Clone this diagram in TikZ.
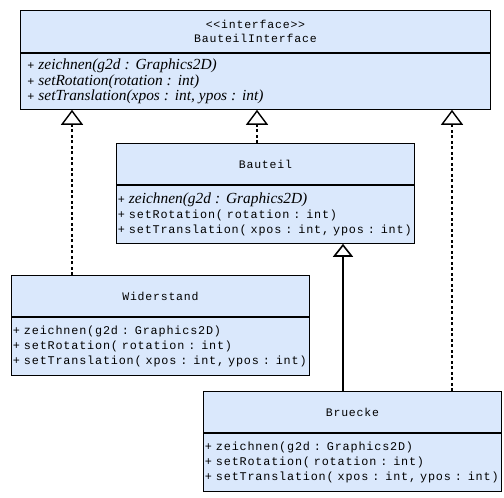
\documentclass[tikz,border=0pt]{standalone}
\usepackage{fontspec}
\setmonofont[LetterSpace=7]{Liberation Mono}
\newfontfamily\abstractfont{Liberation Serif}
\usetikzlibrary{arrows.meta,positioning}
\definecolor{Ink}{HTML}{000000}
\definecolor{ClassFill}{HTML}{DAE8FC}
\newcommand{\umlmono}{\ttfamily\fontsize{11.8}{15.3}\selectfont}
\newcommand{\abst}[1]{{\abstractfont\itshape\fontsize{15.4}{15.3}\selectfont #1}}
\tikzset{
  classhead/.style={
    draw=Ink, fill=ClassFill, line width=0.9pt, inner sep=0pt,
    minimum width=298pt, minimum height=41pt, align=center,
    font=\ttfamily\fontsize{11.5}{13.5}\selectfont
  },
  classbody/.style={
    draw=Ink, fill=ClassFill, line width=0.9pt, inner xsep=1.5pt, inner ysep=0pt,
    minimum width=298pt, minimum height=58pt, text width=295pt, align=left,
    font=\umlmono
  },
  realize/.style={-{Triangle[open,length=15pt,width=22pt,fill=white]},
    line width=1.4pt, draw=Ink, dash pattern=on 3pt off 2.5pt},
  inherit/.style={-{Triangle[open,length=13pt,width=20pt,fill=white]},
    line width=1.6pt, draw=Ink}
}

\begin{document}
\begin{tikzpicture}[x=1pt,y=-1pt,node distance=0pt]
  \useasboundingbox[fill=white] (0,0) rectangle (504,498);
  % interface
  \node[classhead,minimum width=470pt,minimum height=42pt,anchor=north west] (ifh) at (20,10)
    {<<interface>>\\BauteilInterface};
  \node[classbody,minimum width=470pt,minimum height=56pt,inner xsep=7pt,text width=456pt,below=of ifh] (ifb)
    {+ \abst{zeichnen(g2d : Graphics2D)}\\
     + \abst{setRotation(rotation : int)}\\
     + \abst{setTranslation(xpos : int, ypos : int)}};
  % abstract class
  \node[classhead,anchor=north west] (bth) at (116,143) {Bauteil};
  \node[classbody,below=of bth] (btb)
    {+ \abst{zeichnen(g2d : Graphics2D)}\\
     + setRotation( rotation : int)\\
     + setTranslation( xpos : int, ypos : int)};
  % subclasses
  \node[classhead,anchor=north west] (wdh) at (11,275) {Widerstand};
  \node[classbody,below=of wdh] (wdb)
    {+ zeichnen(g2d : Graphics2D)\\
     + setRotation( rotation : int)\\
     + setTranslation( xpos : int, ypos : int)};
  \node[classhead,anchor=north west] (brh) at (203,391) {Bruecke};
  \node[classbody,below=of brh] (brb)
    {+ zeichnen(g2d : Graphics2D)\\
     + setRotation( rotation : int)\\
     + setTranslation( xpos : int, ypos : int)};
  % connectors
  \coordinate (w1) at ([xshift=61pt]wdh.north west);
  \coordinate (b1) at ([xshift=141pt]bth.north west);
  \coordinate (r1) at ([xshift=140pt]brh.north west);
  \coordinate (r2) at ([xshift=249pt]brh.north west);
  \draw[realize] (w1) -- (w1 |- ifb.south);
  \draw[realize] (b1) -- (b1 |- ifb.south);
  \draw[realize] (r2) -- (r2 |- ifb.south);
  \draw[inherit] (r1) -- (r1 |- btb.south);
\end{tikzpicture}
\end{document}
